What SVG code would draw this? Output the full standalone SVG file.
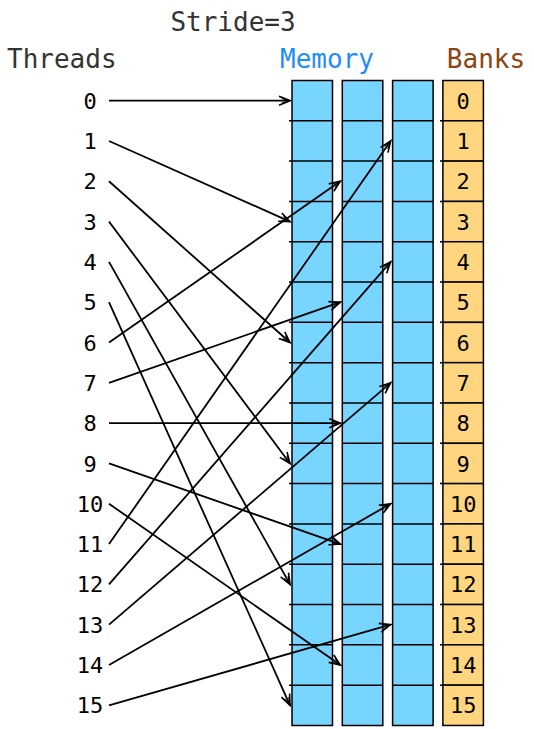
<svg xmlns="http://www.w3.org/2000/svg" width="534" height="729" viewBox="0 0 534 729">
<style>
.hdr{font-family:"DejaVu Sans Mono","Liberation Mono",monospace;font-size:26px}
.num{font-family:"DejaVu Sans Mono","Liberation Mono",monospace;font-size:22px;fill:#000;text-anchor:middle}
.mem{fill:#77D5FF;stroke:#000;stroke-width:1.5}
.bank{fill:#FFD57F;stroke:#000;stroke-width:1.5}
.grid{fill:none;stroke:#000;stroke-width:1.5}
.arr{fill:none;stroke:#000;stroke-width:1.8;marker-end:url(#ah)}
</style>
<defs>
<marker id="ah" viewBox="-14 -7 16 14" refX="0" refY="0" markerWidth="16" markerHeight="14" orient="auto" markerUnits="userSpaceOnUse">
<path d="M-11,-4.5 L0,0 L-11,4.5 M-8,-2.5 L0,0 L-8,2.5" fill="none" stroke="#000" stroke-width="1.6"/>
</marker>
</defs>
<rect width="534" height="729" fill="#fff"/>
<g id="titles">
<text class="hdr" x="233" y="31" text-anchor="middle" fill="#333">Stride=3</text>
<text class="hdr" x="7" y="68" fill="#333">Threads</text>
<text class="hdr" x="327" y="68" text-anchor="middle" fill="#1E8CFF">Memory</text>
<text class="hdr" x="486" y="68" text-anchor="middle" fill="#8B4513">Banks</text>
</g>
<g id="memory-col-0">
<rect class="mem" x="292" y="80.5" width="40.5" height="645"/>
<path class="grid" d="M289,120.81H332.5M289,161.12H332.5M289,201.43H332.5M289,241.74H332.5M289,282.05H332.5M289,322.36H332.5M289,362.67H332.5M289,402.98H332.5M289,443.29H332.5M289,483.6H332.5M289,523.91H332.5M289,564.22H332.5M289,604.53H332.5M289,644.84H332.5M289,685.15H332.5"/>
</g>
<g id="memory-col-1">
<rect class="mem" x="342.3" y="80.5" width="40.5" height="645"/>
<path class="grid" d="M342.3,120.81h40.5M342.3,161.12h40.5M342.3,201.43h40.5M342.3,241.74h40.5M342.3,282.05h40.5M342.3,322.36h40.5M342.3,362.67h40.5M342.3,402.98h40.5M342.3,443.29h40.5M342.3,483.6h40.5M342.3,523.91h40.5M342.3,564.22h40.5M342.3,604.53h40.5M342.3,644.84h40.5M342.3,685.15h40.5"/>
</g>
<g id="memory-col-2">
<rect class="mem" x="392.6" y="80.5" width="40.5" height="645"/>
<path class="grid" d="M392.6,120.81h40.5M392.6,161.12h40.5M392.6,201.43h40.5M392.6,241.74h40.5M392.6,282.05h40.5M392.6,322.36h40.5M392.6,362.67h40.5M392.6,402.98h40.5M392.6,443.29h40.5M392.6,483.6h40.5M392.6,523.91h40.5M392.6,564.22h40.5M392.6,604.53h40.5M392.6,644.84h40.5M392.6,685.15h40.5"/>
</g>
<g id="banks">
<g id="bank-0"><rect class="bank" x="442.9" y="80.5" width="40.5" height="40.31"/><text class="num" x="463.15" y="108.7">0</text></g>
<g id="bank-1"><rect class="bank" x="442.9" y="120.81" width="40.5" height="40.31"/><text class="num" x="463.15" y="149">1</text></g>
<g id="bank-2"><rect class="bank" x="442.9" y="161.12" width="40.5" height="40.31"/><text class="num" x="463.15" y="189.3">2</text></g>
<g id="bank-3"><rect class="bank" x="442.9" y="201.43" width="40.5" height="40.31"/><text class="num" x="463.15" y="229.6">3</text></g>
<g id="bank-4"><rect class="bank" x="442.9" y="241.74" width="40.5" height="40.31"/><text class="num" x="463.15" y="269.9">4</text></g>
<g id="bank-5"><rect class="bank" x="442.9" y="282.05" width="40.5" height="40.31"/><text class="num" x="463.15" y="310.2">5</text></g>
<g id="bank-6"><rect class="bank" x="442.9" y="322.36" width="40.5" height="40.31"/><text class="num" x="463.15" y="350.5">6</text></g>
<g id="bank-7"><rect class="bank" x="442.9" y="362.67" width="40.5" height="40.31"/><text class="num" x="463.15" y="390.8">7</text></g>
<g id="bank-8"><rect class="bank" x="442.9" y="402.98" width="40.5" height="40.31"/><text class="num" x="463.15" y="431.1">8</text></g>
<g id="bank-9"><rect class="bank" x="442.9" y="443.29" width="40.5" height="40.31"/><text class="num" x="463.15" y="471.5">9</text></g>
<g id="bank-10"><rect class="bank" x="442.9" y="483.6" width="40.5" height="40.31"/><text class="num" x="463.15" y="511.8">10</text></g>
<g id="bank-11"><rect class="bank" x="442.9" y="523.91" width="40.5" height="40.31"/><text class="num" x="463.15" y="552.1">11</text></g>
<g id="bank-12"><rect class="bank" x="442.9" y="564.22" width="40.5" height="40.31"/><text class="num" x="463.15" y="592.4">12</text></g>
<g id="bank-13"><rect class="bank" x="442.9" y="604.53" width="40.5" height="40.31"/><text class="num" x="463.15" y="632.7">13</text></g>
<g id="bank-14"><rect class="bank" x="442.9" y="644.84" width="40.5" height="40.31"/><text class="num" x="463.15" y="673">14</text></g>
<g id="bank-15"><rect class="bank" x="442.9" y="685.15" width="40.5" height="40.31"/><text class="num" x="463.15" y="713.3">15</text></g>
<path class="grid" d="M440,120.81h3M440,161.12h3M440,201.43h3M440,241.74h3M440,282.05h3M440,322.36h3M440,362.67h3M440,402.98h3M440,443.29h3M440,483.6h3M440,523.91h3M440,564.22h3M440,604.53h3M440,644.84h3M440,685.15h3"/>
</g>
<g id="threads">
<g id="thread-0"><text class="num" x="90" y="108.7">0</text></g>
<g id="thread-1"><text class="num" x="90" y="149">1</text></g>
<g id="thread-2"><text class="num" x="90" y="189.3">2</text></g>
<g id="thread-3"><text class="num" x="90" y="229.6">3</text></g>
<g id="thread-4"><text class="num" x="90" y="269.9">4</text></g>
<g id="thread-5"><text class="num" x="90" y="310.2">5</text></g>
<g id="thread-6"><text class="num" x="90" y="350.5">6</text></g>
<g id="thread-7"><text class="num" x="90" y="390.8">7</text></g>
<g id="thread-8"><text class="num" x="90" y="431.1">8</text></g>
<g id="thread-9"><text class="num" x="90" y="471.5">9</text></g>
<g id="thread-10"><text class="num" x="90" y="511.8">10</text></g>
<g id="thread-11"><text class="num" x="90" y="552.1">11</text></g>
<g id="thread-12"><text class="num" x="90" y="592.4">12</text></g>
<g id="thread-13"><text class="num" x="90" y="632.7">13</text></g>
<g id="thread-14"><text class="num" x="90" y="673">14</text></g>
<g id="thread-15"><text class="num" x="90" y="713.3">15</text></g>
</g>
<g id="connectors">
<path class="arr" d="M109,100.66L290,100.66"/>
<path class="arr" d="M109,140.97L290,221.59"/>
<path class="arr" d="M109,181.28L290,342.52"/>
<path class="arr" d="M109,221.59L290,463.45"/>
<path class="arr" d="M109,261.9L290,584.38"/>
<path class="arr" d="M109,302.21L290,705.31"/>
<path class="arr" d="M109,342.52L340.3,181.28"/>
<path class="arr" d="M109,382.83L340.3,302.21"/>
<path class="arr" d="M109,423.14L340.3,423.14"/>
<path class="arr" d="M109,463.45L340.3,544.07"/>
<path class="arr" d="M109,503.76L340.3,665"/>
<path class="arr" d="M109,544.07L390.6,140.97"/>
<path class="arr" d="M109,584.38L390.6,261.9"/>
<path class="arr" d="M109,624.69L390.6,382.83"/>
<path class="arr" d="M109,665L390.6,503.76"/>
<path class="arr" d="M109,705.31L390.6,624.69"/>
</g>
</svg>
